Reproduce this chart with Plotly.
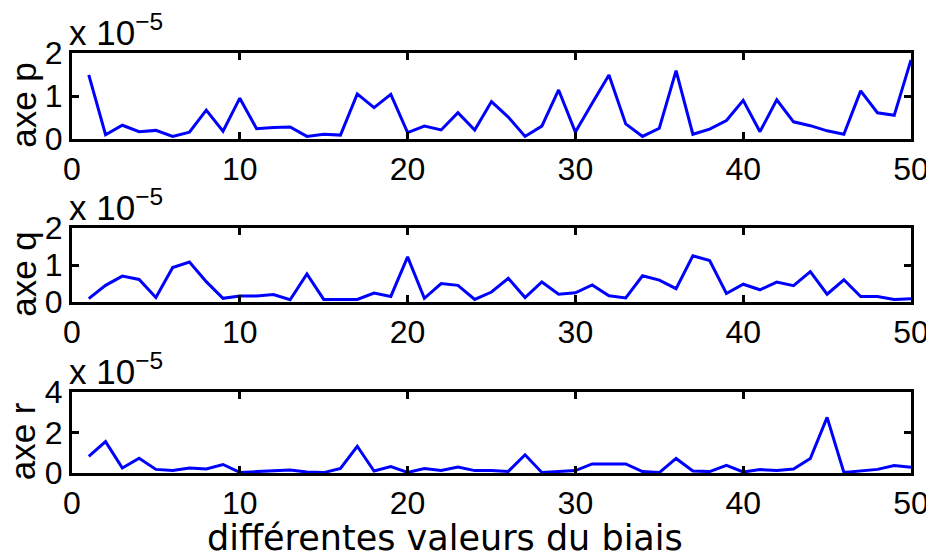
import plotly.graph_objects as go

# x: index of the bias value
x_vals = list(range(1, 51))

# values in units of 1e-5
axe_p = [1.49, 0.10, 0.32, 0.17, 0.20, 0.06, 0.16, 0.67, 0.18, 0.95,
         0.24, 0.27, 0.28, 0.06, 0.11, 0.09, 1.05, 0.73, 1.04, 0.15,
         0.30, 0.21, 0.61, 0.21, 0.87, 0.51, 0.06, 0.30, 1.14, 0.16,
         0.83, 1.49, 0.35, 0.06, 0.25, 1.59, 0.11, 0.23, 0.43, 0.90,
         0.17, 0.91, 0.40, 0.31, 0.19, 0.11, 1.12, 0.61, 0.55, 1.84]

axe_q = [0.09, 0.45, 0.70, 0.61, 0.12, 0.93, 1.08, 0.55, 0.10, 0.16,
         0.16, 0.20, 0.06, 0.76, 0.07, 0.07, 0.07, 0.24, 0.15, 1.22,
         0.10, 0.50, 0.45, 0.07, 0.27, 0.64, 0.12, 0.54, 0.21, 0.25,
         0.46, 0.17, 0.11, 0.71, 0.59, 0.36, 1.25, 1.12, 0.23, 0.48,
         0.33, 0.54, 0.44, 0.82, 0.21, 0.60, 0.15, 0.15, 0.07, 0.09]

axe_r = [0.82, 1.55, 0.25, 0.73, 0.18, 0.13, 0.25, 0.20, 0.42, 0.03,
         0.07, 0.12, 0.15, 0.05, 0.02, 0.23, 1.32, 0.10, 0.32, 0.03,
         0.22, 0.13, 0.30, 0.12, 0.13, 0.08, 0.90, 0.03, 0.07, 0.12,
         0.45, 0.45, 0.45, 0.07, 0.02, 0.72, 0.10, 0.07, 0.38, 0.05,
         0.17, 0.13, 0.20, 0.72, 2.75, 0.03, 0.10, 0.18, 0.37, 0.28]

SCALE = 1e-5
x_ticks = [0, 10, 20, 30, 40, 50]
y_ticks_pq = [0, 1, 2]
y_ticks_r = [0, 2, 4]
y_titles = ["axe p", "axe q", "axe r"]
x_title = "différentes valeurs du biais"

series = [axe_p, axe_q, axe_r]
yticks = [y_ticks_pq, y_ticks_pq, y_ticks_r]
domains = [[0.7661, 0.9196], [0.4750, 0.6071], [0.1696, 0.3143]]

TICK_FONT = dict(family="Liberation Sans, Arial, sans-serif", size=32, color="black")
EXP_FONT = dict(family="Liberation Sans, Arial, sans-serif", size=35, color="black")
TITLE_FONT = dict(family="Liberation Sans, Arial, sans-serif", size=35, color="black")

fig = go.Figure()
layout = dict(
    width=934, height=560,
    margin=dict(l=64, r=31, t=0, b=0),
    paper_bgcolor="white", plot_bgcolor="white",
    showlegend=False,
    annotations=[],
)

for i, (vals, yt, dom, ttl) in enumerate(zip(series, yticks, domains, y_titles)):
    n = "" if i == 0 else str(i + 1)
    fig.add_trace(go.Scatter(
        x=x_vals, y=[v * SCALE for v in vals], mode="lines",
        line=dict(color="#0000ff", width=3),
        xaxis="x" + n, yaxis="y" + n,
    ))
    layout["xaxis" + n] = dict(
        domain=[0, 1], anchor="y" + n, range=[0, 50],
        tickvals=x_ticks, ticktext=[str(t) for t in x_ticks],
        showgrid=False, zeroline=False,
        showline=True, linecolor="black", linewidth=3, mirror="ticks",
        ticks="inside", ticklen=7, tickwidth=2.5, tickcolor="black",
        tickfont=TICK_FONT, automargin=False,
    )
    layout["yaxis" + n] = dict(
        domain=dom, anchor="x" + n, range=[0, yt[-1] * SCALE],
        tickvals=[t * SCALE for t in yt], ticktext=[str(t) for t in yt],
        showgrid=False, zeroline=False,
        showline=True, linecolor="black", linewidth=3, mirror="ticks",
        ticks="inside", ticklen=7, tickwidth=2.5, tickcolor="black",
        tickfont=TICK_FONT, automargin=False,
    )
    # y-axis label (rotated)
    layout["annotations"].append(dict(
        text=ttl, xref="paper", yref="paper", textangle=-90,
        x=-0.033, y=(dom[0] + dom[1]) / 2, xanchor="right", yanchor="middle",
        yshift=-9, showarrow=False, font=TITLE_FONT,
    ))
    # exponent label
    layout["annotations"].append(dict(
        text="x 10<sup>−5</sup>", xref="paper", yref="paper",
        x=-0.006, y=dom[1], xanchor="left", yanchor="bottom", yshift=-1,
        showarrow=False, font=EXP_FONT,
    ))

layout["annotations"].append(dict(
    text=x_title, xref="paper", yref="paper",
    x=0.4446, y=0.0143, xanchor="center", yanchor="bottom",
    showarrow=False, font=dict(family="DejaVu Sans, sans-serif", size=35, color="black"),
))

fig.update_layout(**layout)
fig.write_html("out.html")
